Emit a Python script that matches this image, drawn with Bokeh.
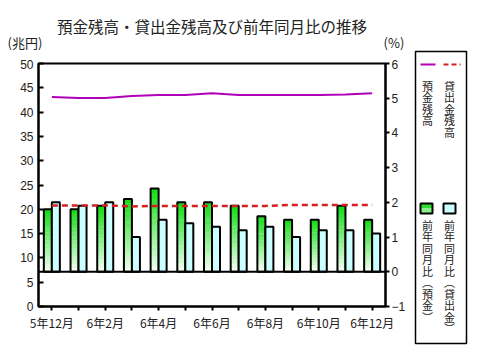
from bokeh.plotting import figure
from bokeh.models import Range1d, LinearAxis, FixedTicker, Span, Label, Div
from bokeh.layouts import row, column
from bokeh.embed import file_html
from bokeh.resources import INLINE

# ---- data ----
months = ["5年12月", "6年1月", "6年2月", "6年3月", "6年4月", "6年5月", "6年6月",
          "6年7月", "6年8月", "6年9月", "6年10月", "6年11月", "6年12月"]
deposit_balance = [43.1, 42.9, 42.9, 43.3, 43.5, 43.5, 43.9, 43.5, 43.5, 43.5, 43.5, 43.6, 43.9]
loan_balance = [20.8, 20.8, 20.8, 20.6, 20.7, 20.7, 20.7, 20.7, 20.7, 20.9, 20.9, 20.9, 20.9]
deposit_yoy = [1.8, 1.8, 1.9, 2.1, 2.4, 2.0, 2.0, 1.9, 1.6, 1.5, 1.5, 1.9, 1.5]
loan_yoy = [2.0, 1.9, 2.0, 1.0, 1.5, 1.4, 1.3, 1.2, 1.3, 1.0, 1.2, 1.2, 1.1]
left_ticks = [0, 5, 10, 15, 20, 25, 30, 35, 40, 45, 50]
right_ticks = [-1, 0, 1, 2, 3, 4, 5, 6]
title_text = "預金残高・貸出金残高及び前年同月比の推移"
left_unit = "(兆円)"
right_unit = "(%)"
legend_names = ["預金残高", "貸出金残高", "前年同月比︵預金︶", "前年同月比︵貸出金︶"]

JP = "Noto Sans CJK JP"
NUM = "Liberation Sans"
TXT = "#222222"
PURPLE = "#b000b8"
RED = "#d42020"
BLUE = "#ccffff"

ML, MR, MT, MB = 38, 22, 4, 44
FW, FH = 348, 243
WM = ML + FW + MR     # main plot width (408)
HH = 59               # header height
HM = MT + FH + MB     # main plot height
WL = 68               # legend width
HL = HH + HM

# ---- header (title and units) as real HTML text ----
span = ("<span style=\"position:absolute;left:{l}px;width:{w}px;top:{t}px;"
        "text-align:center;font-size:{fs}px;line-height:{lh}px;white-space:nowrap\">{s}</span>")
header_html = (
    "<div style=\"position:relative;width:%dpx;height:%dpx;font-family:'%s';color:%s\">" % (WM, HH, JP, TXT)
    + span.format(l=12, w=400, t=18, fs=15.5, lh=16, s=title_text)
    + span.format(l=0, w=50, t=36, fs=13, lh=14, s=left_unit)
    + span.format(l=380, w=28, t=36, fs=13, lh=14, s=right_unit)
    + "</div>")
hdr = Div(text=header_html, width=WM, height=HH, styles={"margin": "0", "padding": "0"})

# ---- main plot ----
xs = list(range(len(months)))
p = figure(width=WM, height=HM, output_backend="svg", toolbar_location=None,
           x_range=Range1d(-0.5, len(months) - 0.5), y_range=Range1d(0, 50),
           min_border_left=ML, min_border_right=MR, min_border_top=MT, min_border_bottom=MB,
           background_fill_color="white", border_fill_color="white")
p.extra_y_ranges = {"pct": Range1d(-1, 6)}
p.xgrid.visible = False
p.ygrid.visible = False
p.outline_line_color = "black"
p.outline_line_width = 2

xa = p.xaxis[0]
xa.ticker = FixedTicker(ticks=xs)
xa.major_label_overrides = {i: (months[i] if i % 2 == 0 else "") for i in xs}
xa.major_tick_in = 0
xa.major_tick_out = 4
xa.major_tick_line_width = 2
xa.minor_tick_line_color = None
xa.axis_line_width = 2
xa.major_label_text_font = JP
xa.major_label_text_font_size = "12px"
xa.major_label_text_color = TXT
xa.major_label_standoff = 3

ya = p.yaxis[0]
ya.ticker = FixedTicker(ticks=left_ticks)
ya.major_tick_in = 5
ya.major_tick_out = 0
ya.major_tick_line_width = 2
ya.minor_tick_line_color = None
ya.axis_line_width = 2
ya.major_label_text_font = NUM
ya.major_label_text_font_size = "12px"
ya.major_label_text_color = TXT
ya.major_label_standoff = 5

ra = LinearAxis(y_range_name="pct", ticker=FixedTicker(ticks=right_ticks))
ra.major_tick_in = 0
ra.major_tick_out = 4
ra.major_tick_line_width = 2
ra.minor_tick_line_color = None
ra.axis_line_width = 2
ra.major_label_text_font = NUM
ra.major_label_text_font_size = "12px"
ra.major_label_text_color = TXT
ra.major_label_standoff = 2
p.add_layout(ra, "right")

# gradient green bars: each bar sliced, green at top fading to white at bottom
N = 16
top_c = (0x10, 0xdc, 0x10)
bot_c = (0xf6, 0xff, 0xf6)
bw = 0.3
gl, gr, gb, gt, gc = [], [], [], [], []
for i, v in zip(xs, deposit_yoy):
    for k in range(N):
        t = (k + 0.5) / N
        c = tuple(int(round(bot_c[j] + (top_c[j] - bot_c[j]) * t)) for j in range(3))
        gl.append(i - bw)
        gr.append(i)
        gb.append(v * k / N)
        gt.append(v * (k + 1) / N + v * 0.004)
        gc.append("#%02x%02x%02x" % c)
p.quad(left=gl, right=gr, bottom=gb, top=gt, fill_color=gc, line_color=None, y_range_name="pct")
p.vbar(x=[i - bw / 2 for i in xs], width=bw, top=deposit_yoy, bottom=0, fill_color=None,
       line_color="black", line_width=2, y_range_name="pct")
p.vbar(x=[i + bw / 2 for i in xs], width=bw, top=loan_yoy, bottom=0, fill_color=BLUE,
       line_color="black", line_width=2, y_range_name="pct")

p.add_layout(Span(location=0, dimension="width", y_range_name="pct", line_color="black", line_width=2))

p.line(xs, deposit_balance, line_color=PURPLE, line_width=2)
p.line(xs, loan_balance, line_color=RED, line_width=2.5, line_dash="6 4")

# ---- legend panel ----
lg = figure(width=WL, height=HL, output_backend="svg", toolbar_location=None,
            x_range=Range1d(0, WL), y_range=Range1d(HL, 0),
            x_axis_type=None, y_axis_type=None,
            min_border_left=0, min_border_right=0, min_border_top=0, min_border_bottom=0,
            background_fill_color="white", border_fill_color="white")
lg.outline_line_color = None
lg.xgrid.visible = False
lg.ygrid.visible = False
lg.quad(left=[7], right=[58], top=[51], bottom=[343], fill_color="white", line_color="black", line_width=1.5)
lg.line([12, 27], [64, 64], line_color=PURPLE, line_width=2)
lg.line([35, 52], [64, 64], line_color=RED, line_width=2, line_dash="5 3")
lg.quad(left=[12], right=[24], top=[203], bottom=[208], fill_color="#2ede2e", line_color=None)
lg.quad(left=[12], right=[24], top=[208], bottom=[213], fill_color="#8cee8c", line_color=None)
lg.quad(left=[12], right=[24], top=[203], bottom=[213], fill_color=None, line_color="black", line_width=2)
lg.quad(left=[35], right=[47], top=[203], bottom=[213], fill_color=BLUE, line_color="black", line_width=2)

for (x, y), name in zip([(19, 77), (41, 77), (19, 216), (41, 216)], legend_names):
    lg.add_layout(Label(x=x, y=y, text="\n".join(name), text_font=JP, text_font_size="11px",
                        text_align="center", text_baseline="top", text_line_height=0.72,
                        text_color=TXT))

layout = row(column(hdr, p), lg)
open("out.html", "w").write(file_html(layout, INLINE))
